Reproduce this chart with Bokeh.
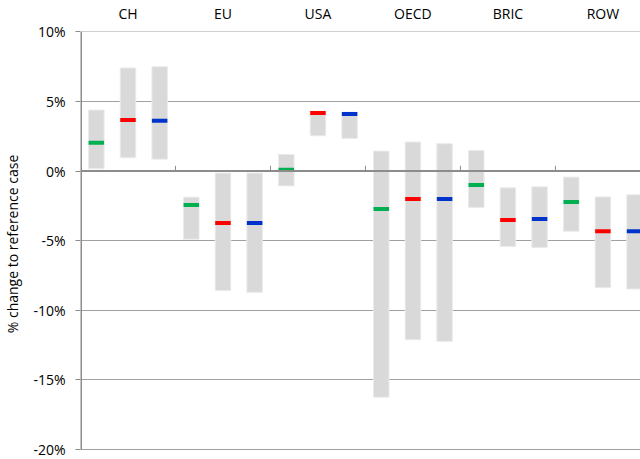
from bokeh.plotting import figure
from bokeh.models import Range1d, FixedTicker, LinearAxis
from bokeh.embed import file_html
from bokeh.resources import INLINE

# Regions shown along the top
regions = ["CH", "EU", "USA", "OECD", "BRIC", "ROW"]

# Three scenarios per region: central estimate plus low/high range (% change)
green_central = [2.03, -2.43, 0.09, -2.72, -0.99, -2.22]
green_low = [0.17, -4.89, -1.06, -16.24, -2.61, -4.32]
green_high = [4.39, -1.87, 1.20, 1.44, 1.49, -0.43]

red_central = [3.67, -3.73, 4.17, -2.00, -3.51, -4.32]
red_low = [0.96, -8.58, 2.54, -12.11, -5.42, -8.37]
red_high = [7.41, -0.14, 4.30, 2.09, -1.20, -1.85]

blue_central = [3.61, -3.73, 4.10, -2.00, -3.44, -4.32]
blue_low = [0.86, -8.71, 2.35, -12.23, -5.49, -8.47]
blue_high = [7.50, -0.14, 4.24, 1.97, -1.13, -1.70]

y_ticks = [-20, -15, -10, -5, 0, 5, 10]

FONT = "Open Sans"
FSIZE = "14px"
scenarios = [
    (green_central, green_low, green_high, "#00b050"),
    (red_central, red_low, red_high, "#ff0000"),
    (blue_central, blue_low, blue_high, "#0033cc"),
]
n_sc = len(scenarios)
n_slots = len(regions) * n_sc

p = figure(
    width=640, height=459,
    output_backend="svg", toolbar_location=None,
    x_range=Range1d(0, 566 / 32), y_range=Range1d(-20.5, 10.03),
    min_border_left=74, min_border_right=0, min_border_top=0, min_border_bottom=3,
    x_axis_location=None,
)
p.outline_line_color = None
p.background_fill_color = "white"
p.border_fill_color = "white"

# horizontal gridlines
p.xgrid.visible = False
p.ygrid.ticker = FixedTicker(ticks=[t for t in y_ticks if t != 0])
p.ygrid.grid_line_color = "#a0a0a0"
p.ygrid.grid_line_width = 1

# left value axis: labels and ticks from the axis, spine drawn only over the tick span
ya = p.yaxis[0]
ya.ticker = FixedTicker(ticks=y_ticks)
ya.major_label_overrides = {t: f"{t}%" for t in y_ticks}
ya.axis_line_color = None
ya.major_tick_line_color = "#8c8c8c"
ya.major_tick_out = 5
ya.major_tick_in = 0
ya.minor_tick_line_color = None
ya.major_label_standoff = 10
ya.major_label_text_font = FONT
ya.major_label_text_font_size = FSIZE
ya.major_label_text_color = "#000000"
ya.axis_label = "% change to reference case"
ya.axis_label_text_font = FONT
ya.axis_label_text_font_size = FSIZE
ya.axis_label_text_font_style = "normal"
ya.axis_label_text_color = "#000000"
ya.axis_label_standoff = 8
p.segment(x0=[0], y0=[y_ticks[0]], x1=[0], y1=[y_ticks[-1]],
          line_color="#8c8c8c", line_width=3)

# region names along the top
centers = [g * n_sc + n_sc / 2 for g in range(len(regions))]
top = LinearAxis(
    ticker=FixedTicker(ticks=centers),
    major_label_overrides={c: r for c, r in zip(centers, regions)},
    axis_line_color=None, major_tick_line_color=None, minor_tick_line_color=None,
    major_tick_out=0, major_tick_in=0,
    major_label_standoff=9,
    major_label_text_font=FONT, major_label_text_font_size=FSIZE,
    major_label_text_color="#000000",
)
p.add_layout(top, "above")

# range bars and central markers
for s, (cen, lo, hi, col) in enumerate(scenarios):
    xs = [g * n_sc + s + 0.5 for g in range(len(regions))]
    p.vbar(x=xs, bottom=lo, top=hi, width=0.49,
           fill_color="#d9d9d9", line_color="#ebebeb", line_width=1)
    p.rect(x=xs, y=cen, width=0.49, height=4, height_units="screen",
           fill_color=col, line_color=None)

# zero line with category separators
p.line(x=[0, n_slots], y=[0, 0], line_color="#8c8c8c", line_width=2)
bounds = [g * n_sc for g in range(1, len(regions))]
p.segment(x0=bounds, y0=[0] * len(bounds), x1=bounds, y1=[0.38] * len(bounds),
          line_color="#8c8c8c", line_width=1)

open("out.html", "w").write(file_html(p, INLINE))
